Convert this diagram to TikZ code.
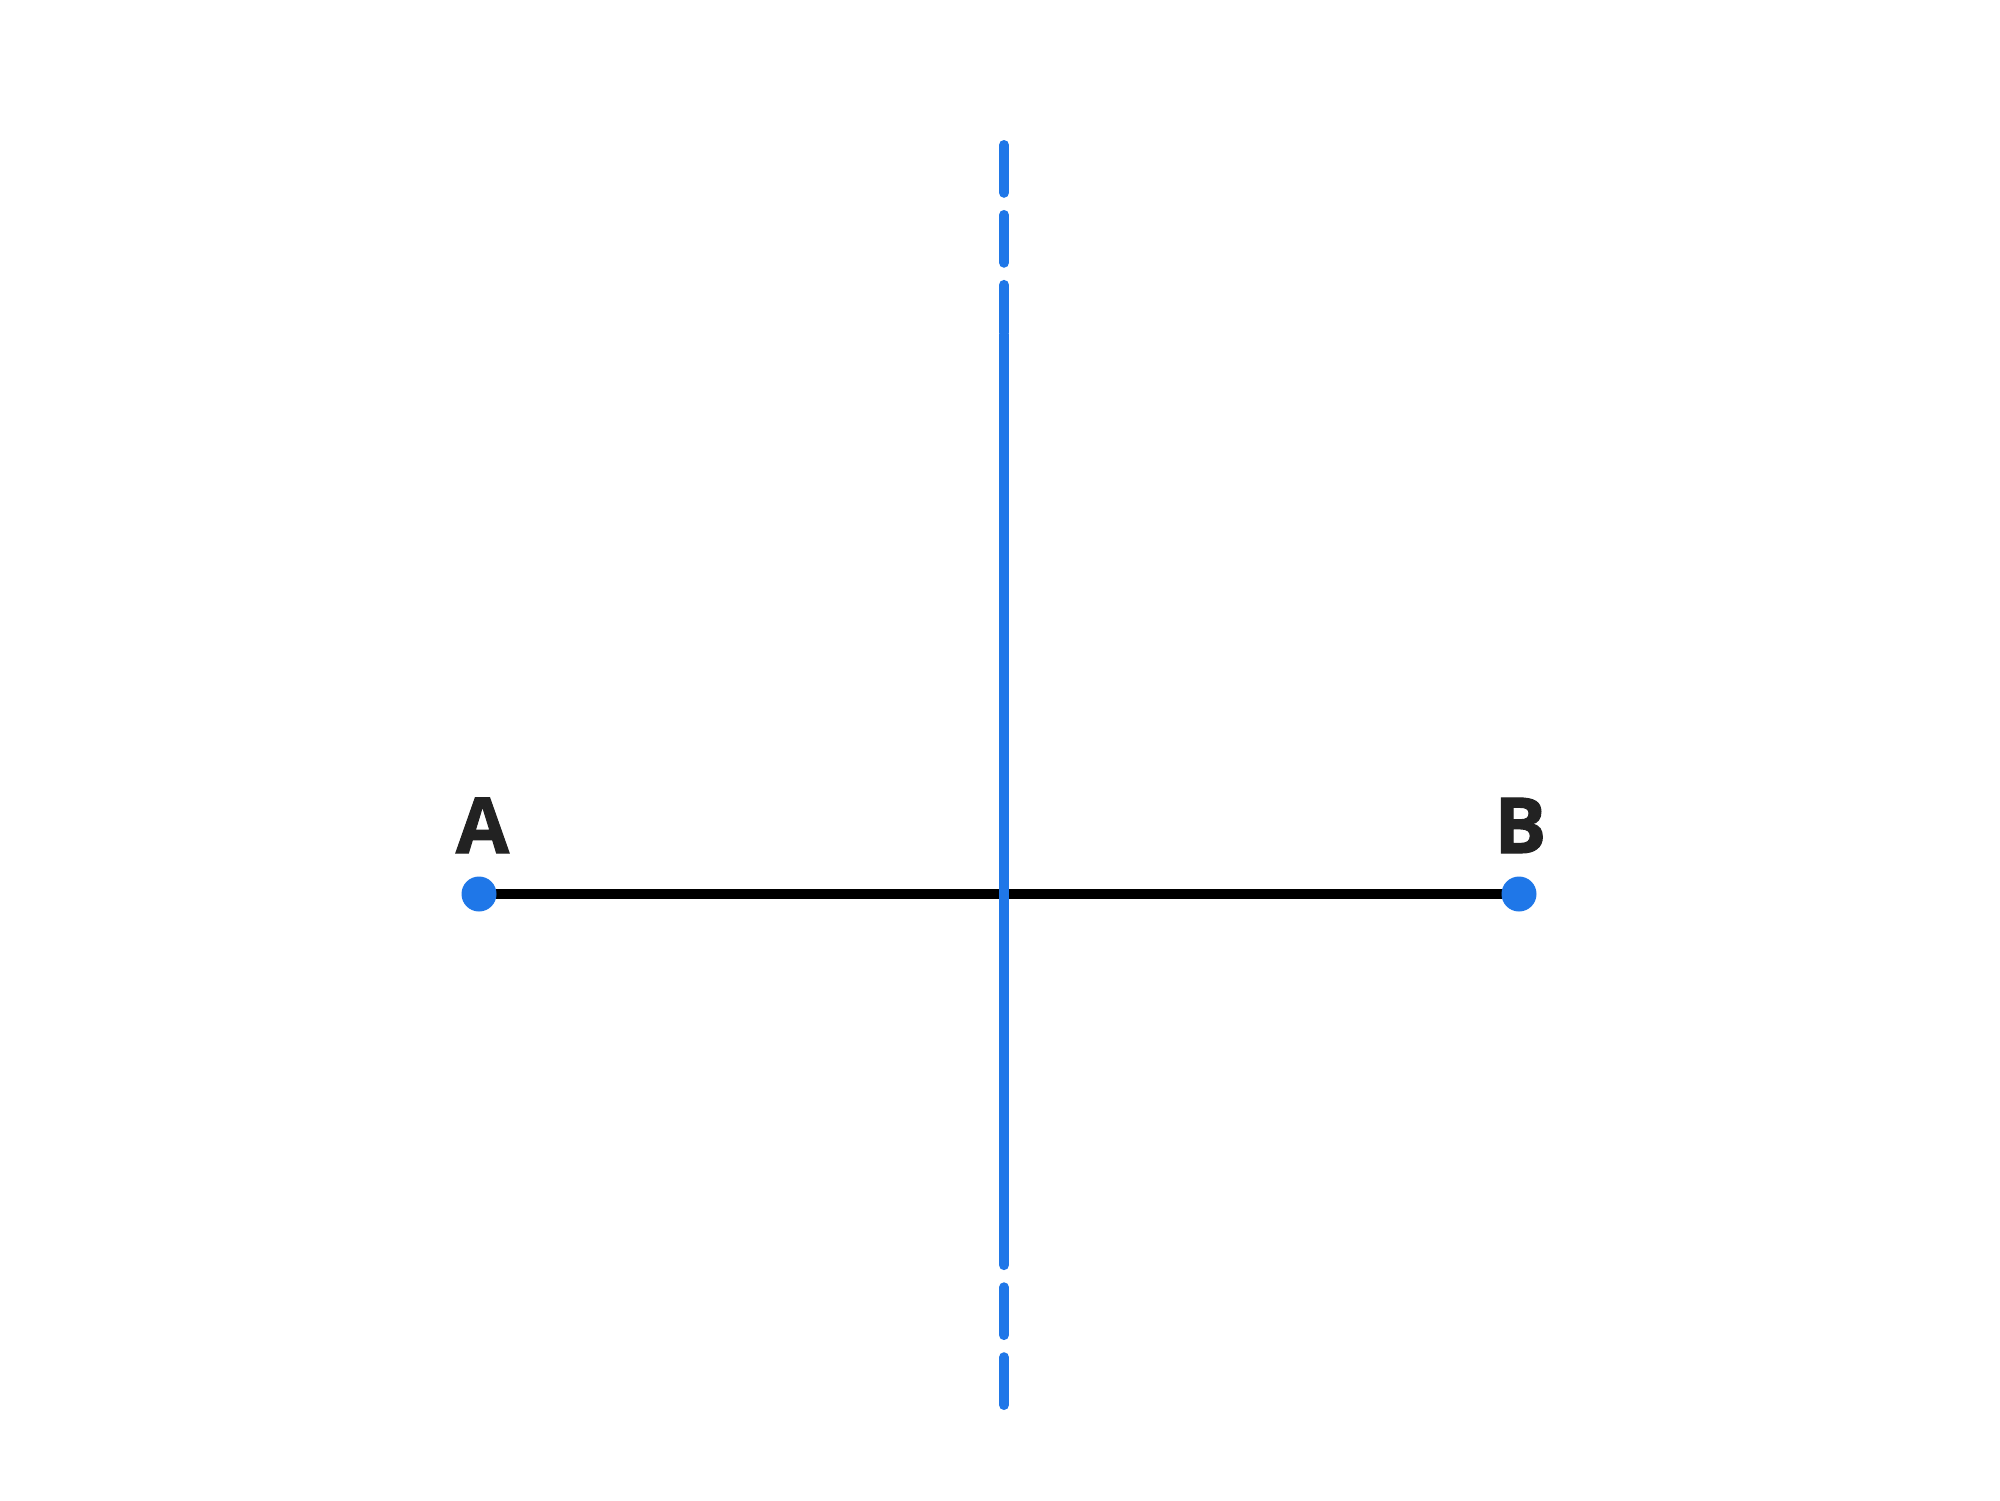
\documentclass[tikz,border=0pt]{standalone}
\usepackage{fontspec}
\setsansfont{Open Sans}[BoldFeatures={FakeBold=1.3}]
\usepackage{tikz,xcolor}
\definecolor{ptblue}{HTML}{1F77E8}
\definecolor{lbl}{HTML}{222222}

\begin{document}
\begin{tikzpicture}[
  pt/.style={circle, fill=ptblue, inner sep=0pt, minimum size=0.35cm},
  lab/.style={anchor=base, text=lbl, font=\fontsize{22}{26}\sffamily\bfseries},
  bisect/.style={ptblue, line width=2.85pt},
  bisectdash/.style={bisect, line cap=round, dash pattern=on 13.6pt off 6.3pt}
]
\useasboundingbox (0,0) rectangle (20,-15);

\draw[black, line width=2.85pt] (4.79,-8.94) -- (15.19,-8.94);
\node[pt] (A) at (4.79,-8.94) {};
\node[pt] (B) at (15.19,-8.94) {};
\node[lab] (labA) at (4.825,-8.53) {A};
\node[lab] (labB) at (15.205,-8.53) {B};

% perpendicular bisector
\coordinate (top) at (10.04,-1.45);
\coordinate (solidtop) at (10.04,-3.34);
\coordinate (solidbot) at (10.04,-12.24);
\coordinate (bot) at (10.04,-14.05);
\draw[bisectdash] (top) -- (solidtop);
\draw[bisectdash] (bot) -- (solidbot);
\draw[bisect] (solidtop) -- (solidbot);

\end{tikzpicture}
\end{document}
